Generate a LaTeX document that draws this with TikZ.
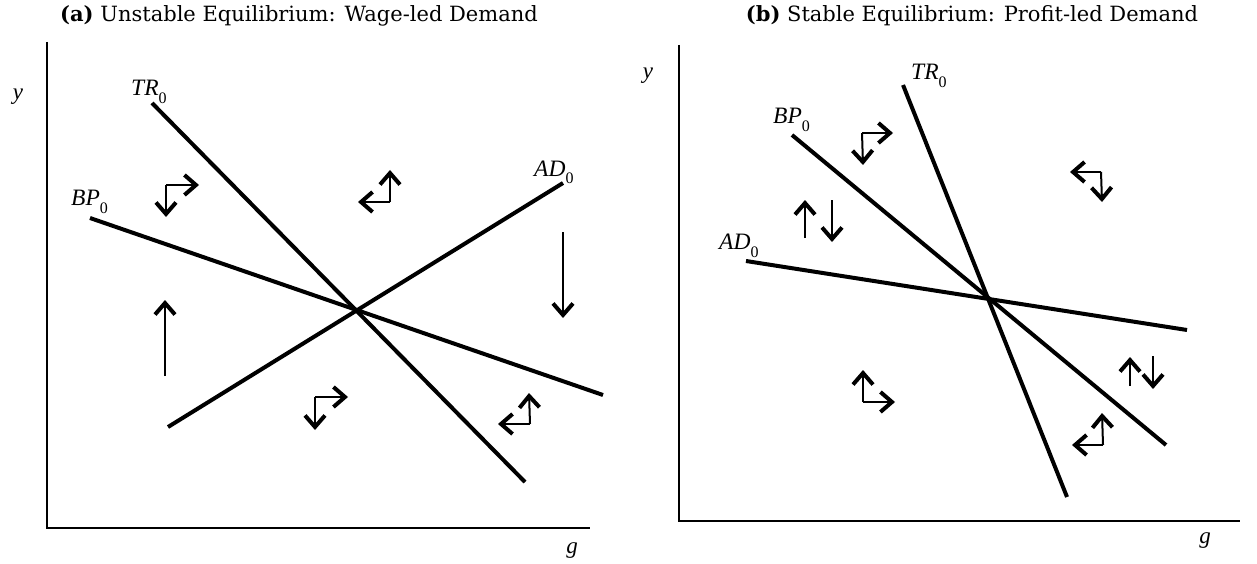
\documentclass[tikz,border=0pt]{standalone}
\usepackage{fontspec}
\setmainfont{Liberation Serif}
\newfontfamily\titlefont{DejaVu Serif}
\usetikzlibrary{arrows.meta}
\newcommand{\lab}[1]{\textit{#1}\raisebox{-8pt}{\fontsize{16}{16}\selectfont 0}}
\tikzset{
  axis/.style={line width=1.6pt},
  curve/.style={line width=4pt},
  mv/.style={line width=2pt, -{Straight Barb[length=11.5pt,width=20pt,line width=4pt]}},
  lbl/.style={font=\fontsize{23.5}{23.5}\selectfont, anchor=base west, inner sep=0pt},
  axlbl/.style={font=\fontsize{23}{23}\selectfont\itshape, inner sep=0pt},
  ttl/.style={font=\titlefont\fontsize{21}{24}\selectfont, inner sep=0pt, anchor=base}
}
\begin{document}
\begin{tikzpicture}[x=1pt,y=-1pt]
\path[use as bounding box] (0,0) rectangle (1257,564);
% ---------- panel (a)
\node[ttl] (ta) at (299,22) {\textbf{(a)} Unstable Equilibrium: Wage-led Demand};
\coordinate (oa) at (47,528);
\coordinate (ya) at (47,42);
\coordinate (xa) at (590,528);
\draw[axis] (ya) -- (oa) -- (xa);
\node[axlbl] (yla) at (18,97) {y};
\node[axlbl] (gla) at (572,551) {g};
\coordinate (tra1) at (152,103); \coordinate (tra2) at (525,482);
\coordinate (bpa1) at (90,218);  \coordinate (bpa2) at (603,395);
\coordinate (ada1) at (168,427); \coordinate (ada2) at (563,183);
\draw[curve] (tra1) -- (tra2);
\draw[curve] (bpa1) -- (bpa2);
\draw[curve] (ada1) -- (ada2);
\node[lbl] (ltra) at (131,96) {\lab{TR}};
\node[lbl] (lbpa) at (71,205) {\lab{BP}};
\node[lbl] (lada) at (534,176) {\lab{AD}};
% long arrows
\coordinate (u1a) at (165,376); \coordinate (u1b) at (165,300);
\draw[mv] (u1a) -- (u1b);
\coordinate (d1a) at (563,232); \coordinate (d1b) at (563,318);
\draw[mv] (d1a) -- (d1b);
% compound arrows (corner, then two tips)
\coordinate (c1) at (166,185);
\draw[mv] (c1) -- (199,185); \draw[mv] (c1) -- (166,217);
\coordinate (c2) at (390,202);
\draw[mv] (c2) -- (390,170); \draw[mv] (c2) -- (358,202);
\coordinate (c3) at (315,397);
\draw[mv] (c3) -- (348,397); \draw[mv] (c3) -- (315,430);
\coordinate (c4) at (530,424);
\draw[mv] (c4) -- (529,393); \draw[mv] (c4) -- (498,424);
% ---------- panel (b)
\node[ttl] (tb) at (972,22) {\textbf{(b)} Stable Equilibrium: Profit-led Demand};
\coordinate (ob) at (679,521);
\coordinate (yb) at (679,45);
\coordinate (xb) at (1240,521);
\draw[axis] (yb) -- (ob) -- (xb);
\node[axlbl] (ylb) at (648,76) {y};
\node[axlbl] (glb) at (1205,541) {g};
\coordinate (trb1) at (903,85);  \coordinate (trb2) at (1067,497);
\coordinate (bpb1) at (792,135); \coordinate (bpb2) at (1166,445);
\coordinate (adb1) at (746,261); \coordinate (adb2) at (1187,330);
\draw[curve] (trb1) -- (trb2);
\draw[curve] (bpb1) -- (bpb2);
\draw[curve] (adb1) -- (adb2);
\node[lbl] (ltrb) at (911,80) {\lab{TR}};
\node[lbl] (lbpb) at (773,124) {\lab{BP}};
\node[lbl] (ladb) at (719,249) {\lab{AD}};
% up/down pairs
\draw[mv] (805,238) -- (805,200);
\draw[mv] (832,200) -- (832,242);
\draw[mv] (1130,386) -- (1130,357);
\draw[mv] (1153,356) -- (1153,389);
% compound arrows
\coordinate (c5) at (862,133);
\draw[mv] (c5) -- (893,133); \draw[mv] (c5) -- (863,165);
\coordinate (c6) at (1101,172);
\draw[mv] (c6) -- (1070,172); \draw[mv] (c6) -- (1102,202);
\coordinate (c7) at (863,402);
\draw[mv] (c7) -- (863,370); \draw[mv] (c7) -- (895,402);
\coordinate (c8) at (1103,445);
\draw[mv] (c8) -- (1102,413); \draw[mv] (c8) -- (1072,445);
\end{tikzpicture}
\end{document}
